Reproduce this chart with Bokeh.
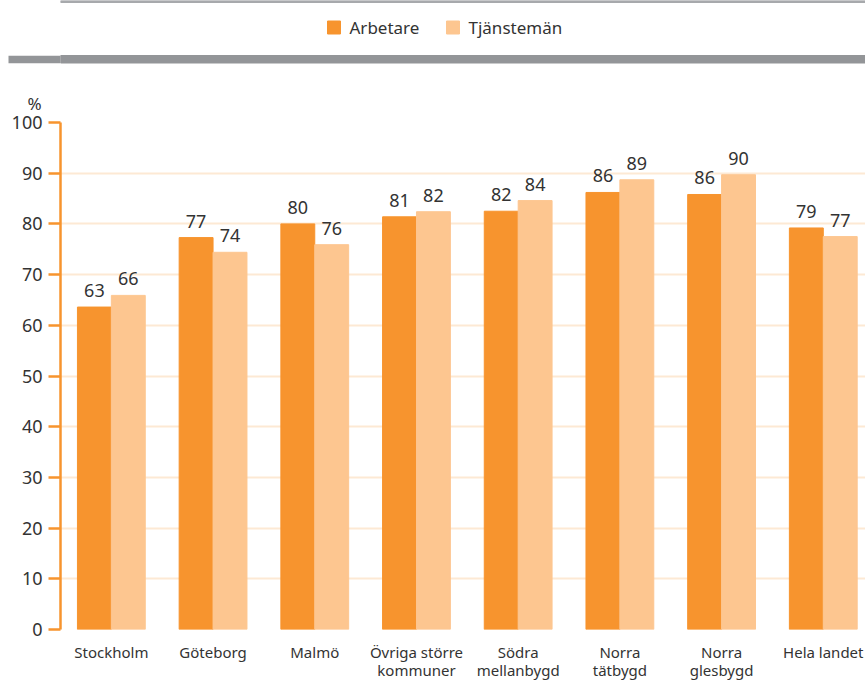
from bokeh.plotting import figure
from bokeh.layouts import column
from bokeh.models import Range1d, FixedTicker, Title
from bokeh.core.properties import value
from bokeh.embed import file_html
from bokeh.resources import INLINE

categories = ["Stockholm", "Göteborg", "Malmö", "Övriga större\nkommuner",
              "Södra\nmellanbygd", "Norra\ntätbygd", "Norra\nglesbygd", "Hela landet"]
arbetare = [63.6, 77.3, 80.0, 81.4, 82.5, 86.2, 85.8, 79.2]
tjansteman = [65.9, 74.4, 75.9, 82.4, 84.6, 88.7, 89.7, 77.5]
arbetare_labels = ["63", "77", "80", "81", "82", "86", "86", "79"]
tjansteman_labels = ["66", "74", "76", "82", "84", "89", "90", "77"]
series_names = ["Arbetare", "Tjänstemän"]
y_ticks = [0, 10, 20, 30, 40, 50, 60, 70, 80, 90, 100]

DARK = "#F7942E"
LIGHT = "#FDC690"
TEXT = "#333333"
GRID = "#FDE9D4"
RULE = "#939598"
FONT = "Noto Sans"

W = 865
TOP_H = 70
MAIN_H = 682 - TOP_H
LEFT = 60

# ---------------- header (legend + rules) ----------------
top = figure(width=W, height=TOP_H, x_range=Range1d(LEFT, W), y_range=Range1d(TOP_H, 0),
             toolbar_location=None, output_backend="svg", x_axis_type=None,
             min_border_left=LEFT, min_border_right=0, min_border_top=0, min_border_bottom=0)
top.grid.visible = False
top.outline_line_color = None
top.quad(left=[LEFT], right=[W], top=[0], bottom=[2], color="#A7A9AC")
top.quad(left=[LEFT], right=[W], top=[55], bottom=[62.5], color=RULE)
top.quad(left=[327, 446], right=[340, 459], top=[20.5, 20.5], bottom=[33.5, 33.5],
         color=[DARK, LIGHT])
top.text(x=[349, 468], y=[27, 27], text=series_names, text_baseline="middle",
         text_align="left", text_font=value(FONT), text_font_size="17px", text_color=TEXT)
# the left end of the grey rule is drawn as the (only) tick of the header's y axis
tax = top.yaxis[0]
tax.ticker = FixedTicker(ticks=[59])
tax.major_label_overrides = {59: ""}
tax.major_label_text_font_size = "1px"
tax.major_label_standoff = 0
tax.axis_line_color = None
tax.minor_tick_line_color = None
tax.major_tick_in = 0
tax.major_tick_out = 52
tax.major_tick_line_width = 7.5
tax.major_tick_line_color = RULE
tax.major_tick_line_cap = "butt"

# ---------------- main chart ----------------
n = len(categories)
xs = list(range(n))
p = figure(width=W, height=MAIN_H, x_range=Range1d(-0.5, 7.415), y_range=Range1d(0, 100),
           toolbar_location=None, output_backend="svg",
           min_border_left=LEFT, min_border_right=0, min_border_top=52, min_border_bottom=52)
p.outline_line_color = None
p.title = Title(text="%", align="left", offset=-33, standoff=16, text_font=FONT,
                text_font_size="17px", text_font_style="normal", text_color=TEXT)

bw = 1 / 3
xa = [x - bw / 2 for x in xs]
xt = [x + bw / 2 for x in xs]
p.vbar(x=xa, top=arbetare, width=bw, color=DARK)
p.vbar(x=xt, top=tjansteman, width=bw, color=LIGHT)
p.text(x=xa, y=arbetare, text=arbetare_labels, text_align="center", text_baseline="bottom",
       y_offset=-10, text_font=value(FONT), text_font_size="18px", text_color=TEXT)
p.text(x=xt, y=tjansteman, text=tjansteman_labels, text_align="center", text_baseline="bottom",
       y_offset=-10, text_font=value(FONT), text_font_size="18px", text_color=TEXT)

p.xgrid.visible = False
p.ygrid.grid_line_color = GRID
p.ygrid.grid_line_width = 2

xax = p.xaxis[0]
xax.ticker = FixedTicker(ticks=xs)
xax.major_label_overrides = {i: c for i, c in enumerate(categories)}
xax.axis_line_color = None
xax.major_tick_line_color = None
xax.minor_tick_line_color = None
xax.major_label_standoff = 6
xax.major_label_text_font = FONT
xax.major_label_text_font_size = "15px"
xax.major_label_text_line_height = 0.9
xax.major_label_text_color = TEXT

yax = p.yaxis[0]
yax.ticker = FixedTicker(ticks=y_ticks)
yax.axis_line_color = DARK
yax.axis_line_width = 2.5
yax.major_tick_line_color = DARK
yax.major_tick_line_width = 2.5
yax.major_tick_out = 12
yax.major_tick_in = 0
yax.minor_tick_line_color = None
yax.major_label_standoff = 6
yax.major_label_text_font = FONT
yax.major_label_text_font_size = "18px"
yax.major_label_text_color = TEXT

layout = column(top, p, spacing=0)
open("out.html", "w").write(file_html(layout, INLINE))
